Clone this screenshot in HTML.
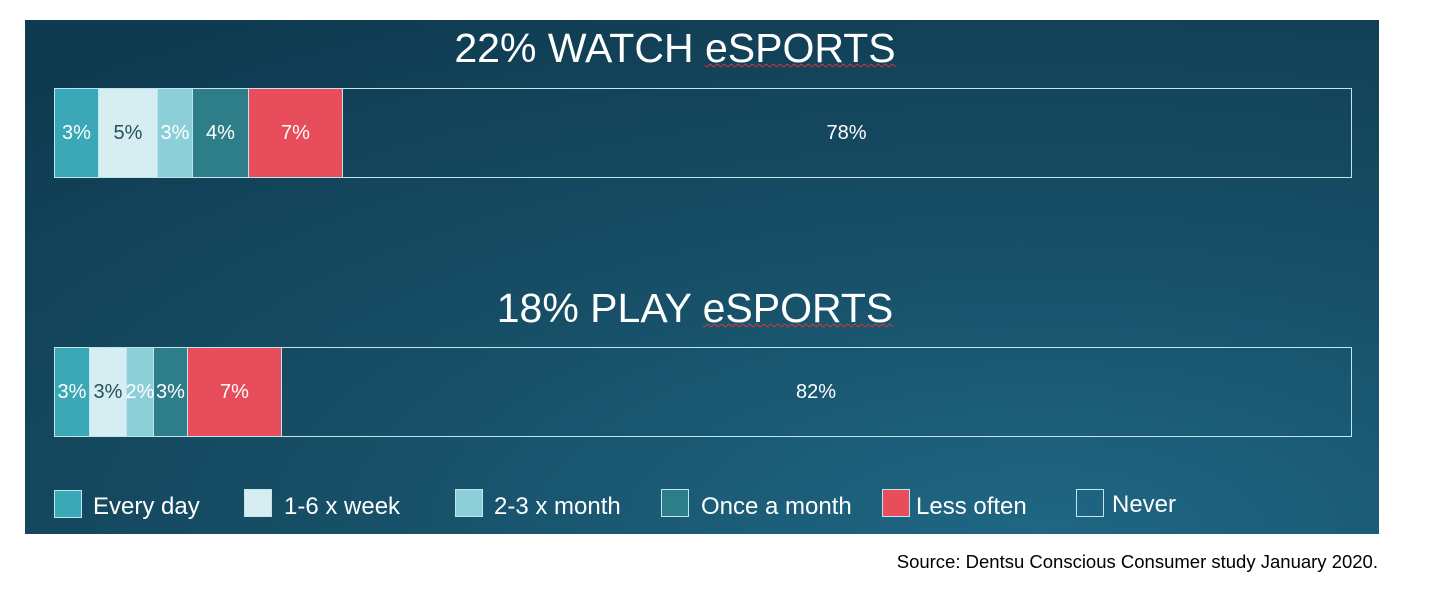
<!DOCTYPE html>
<html><head><meta charset="utf-8"><style>
body{margin:0;width:1444px;height:597px;background:#fff;position:relative;overflow:hidden;font-family:"Liberation Sans",sans-serif}
#p{position:absolute;left:25px;top:20px;width:1354px;height:514px;background:radial-gradient(ellipse 110% 120% at 75% 100%,#1f6784 0%,#175068 45%,#0f3a50 100%)}
.t{position:absolute;color:#fff;font-size:41px;text-align:center;left:0}
.bar{position:absolute;left:54px;width:1298px;height:90px;border:1.5px solid #bfe6ee;box-sizing:border-box}
.s{position:absolute;top:0;height:100%;display:flex;align-items:center;justify-content:center;font-size:20px;color:#fff;border-right:1.5px solid #bfe6ee;box-sizing:border-box}
.lg{position:absolute;top:490px;width:28px;height:28px;border:1.5px solid #bfe6ee;box-sizing:border-box}
.lt{position:absolute;top:493px;color:#fff;font-size:24px}
u{text-decoration:underline wavy #d33;text-decoration-thickness:1px}
</style></head><body>
<div id="p"></div>
<div class="t" style="top:25px;width:1350px">22% WATCH <u>eSPORTS</u></div>
<div class="bar" style="top:88px">
<div class="s" style="left:0;width:44px;background:#3ba8b8">3%</div>
<div class="s" style="left:44px;width:59px;background:#d6eef2;color:#24505c">5%</div>
<div class="s" style="left:103px;width:35px;background:#8ccfd8">3%</div>
<div class="s" style="left:138px;width:56px;background:#2e7e8a">4%</div>
<div class="s" style="left:194px;width:94px;background:#e84d5b">7%</div>
<div class="s" style="left:288px;width:1007px;border:none">78%</div>
</div>
<div class="t" style="top:285px;width:1390px">18% PLAY <u>eSPORTS</u></div>
<div class="bar" style="top:347px">
<div class="s" style="left:0;width:35px;background:#3ba8b8">3%</div>
<div class="s" style="left:35px;width:37px;background:#d6eef2;color:#24505c">3%</div>
<div class="s" style="left:72px;width:27px;background:#8ccfd8">2%</div>
<div class="s" style="left:99px;width:34px;background:#2e7e8a">3%</div>
<div class="s" style="left:133px;width:94px;background:#e84d5b">7%</div>
<div class="s" style="left:227px;width:1068px;border:none">82%</div>
</div>
<div class="lg" style="left:54px;background:#3ba8b8"></div><div class="lt" style="left:93px">Every day</div>
<div class="lg" style="left:244px;top:489px;background:#d6eef2"></div><div class="lt" style="left:284px">1-6 x week</div>
<div class="lg" style="left:455px;top:489px;background:#8ccfd8"></div><div class="lt" style="left:494px">2-3 x month</div>
<div class="lg" style="left:661px;top:489px;background:#2e7e8a"></div><div class="lt" style="left:701px">Once a month</div>
<div class="lg" style="left:882px;top:489px;background:#e84d5b"></div><div class="lt" style="left:916px">Less often</div>
<div class="lg" style="left:1076px;top:489px;background:transparent"></div><div class="lt" style="left:1112px;top:491px">Never</div>
<div style="position:absolute;right:66px;top:551px;font-size:18.5px;color:#000">Source: Dentsu Conscious Consumer study January 2020.</div>
</body></html>
